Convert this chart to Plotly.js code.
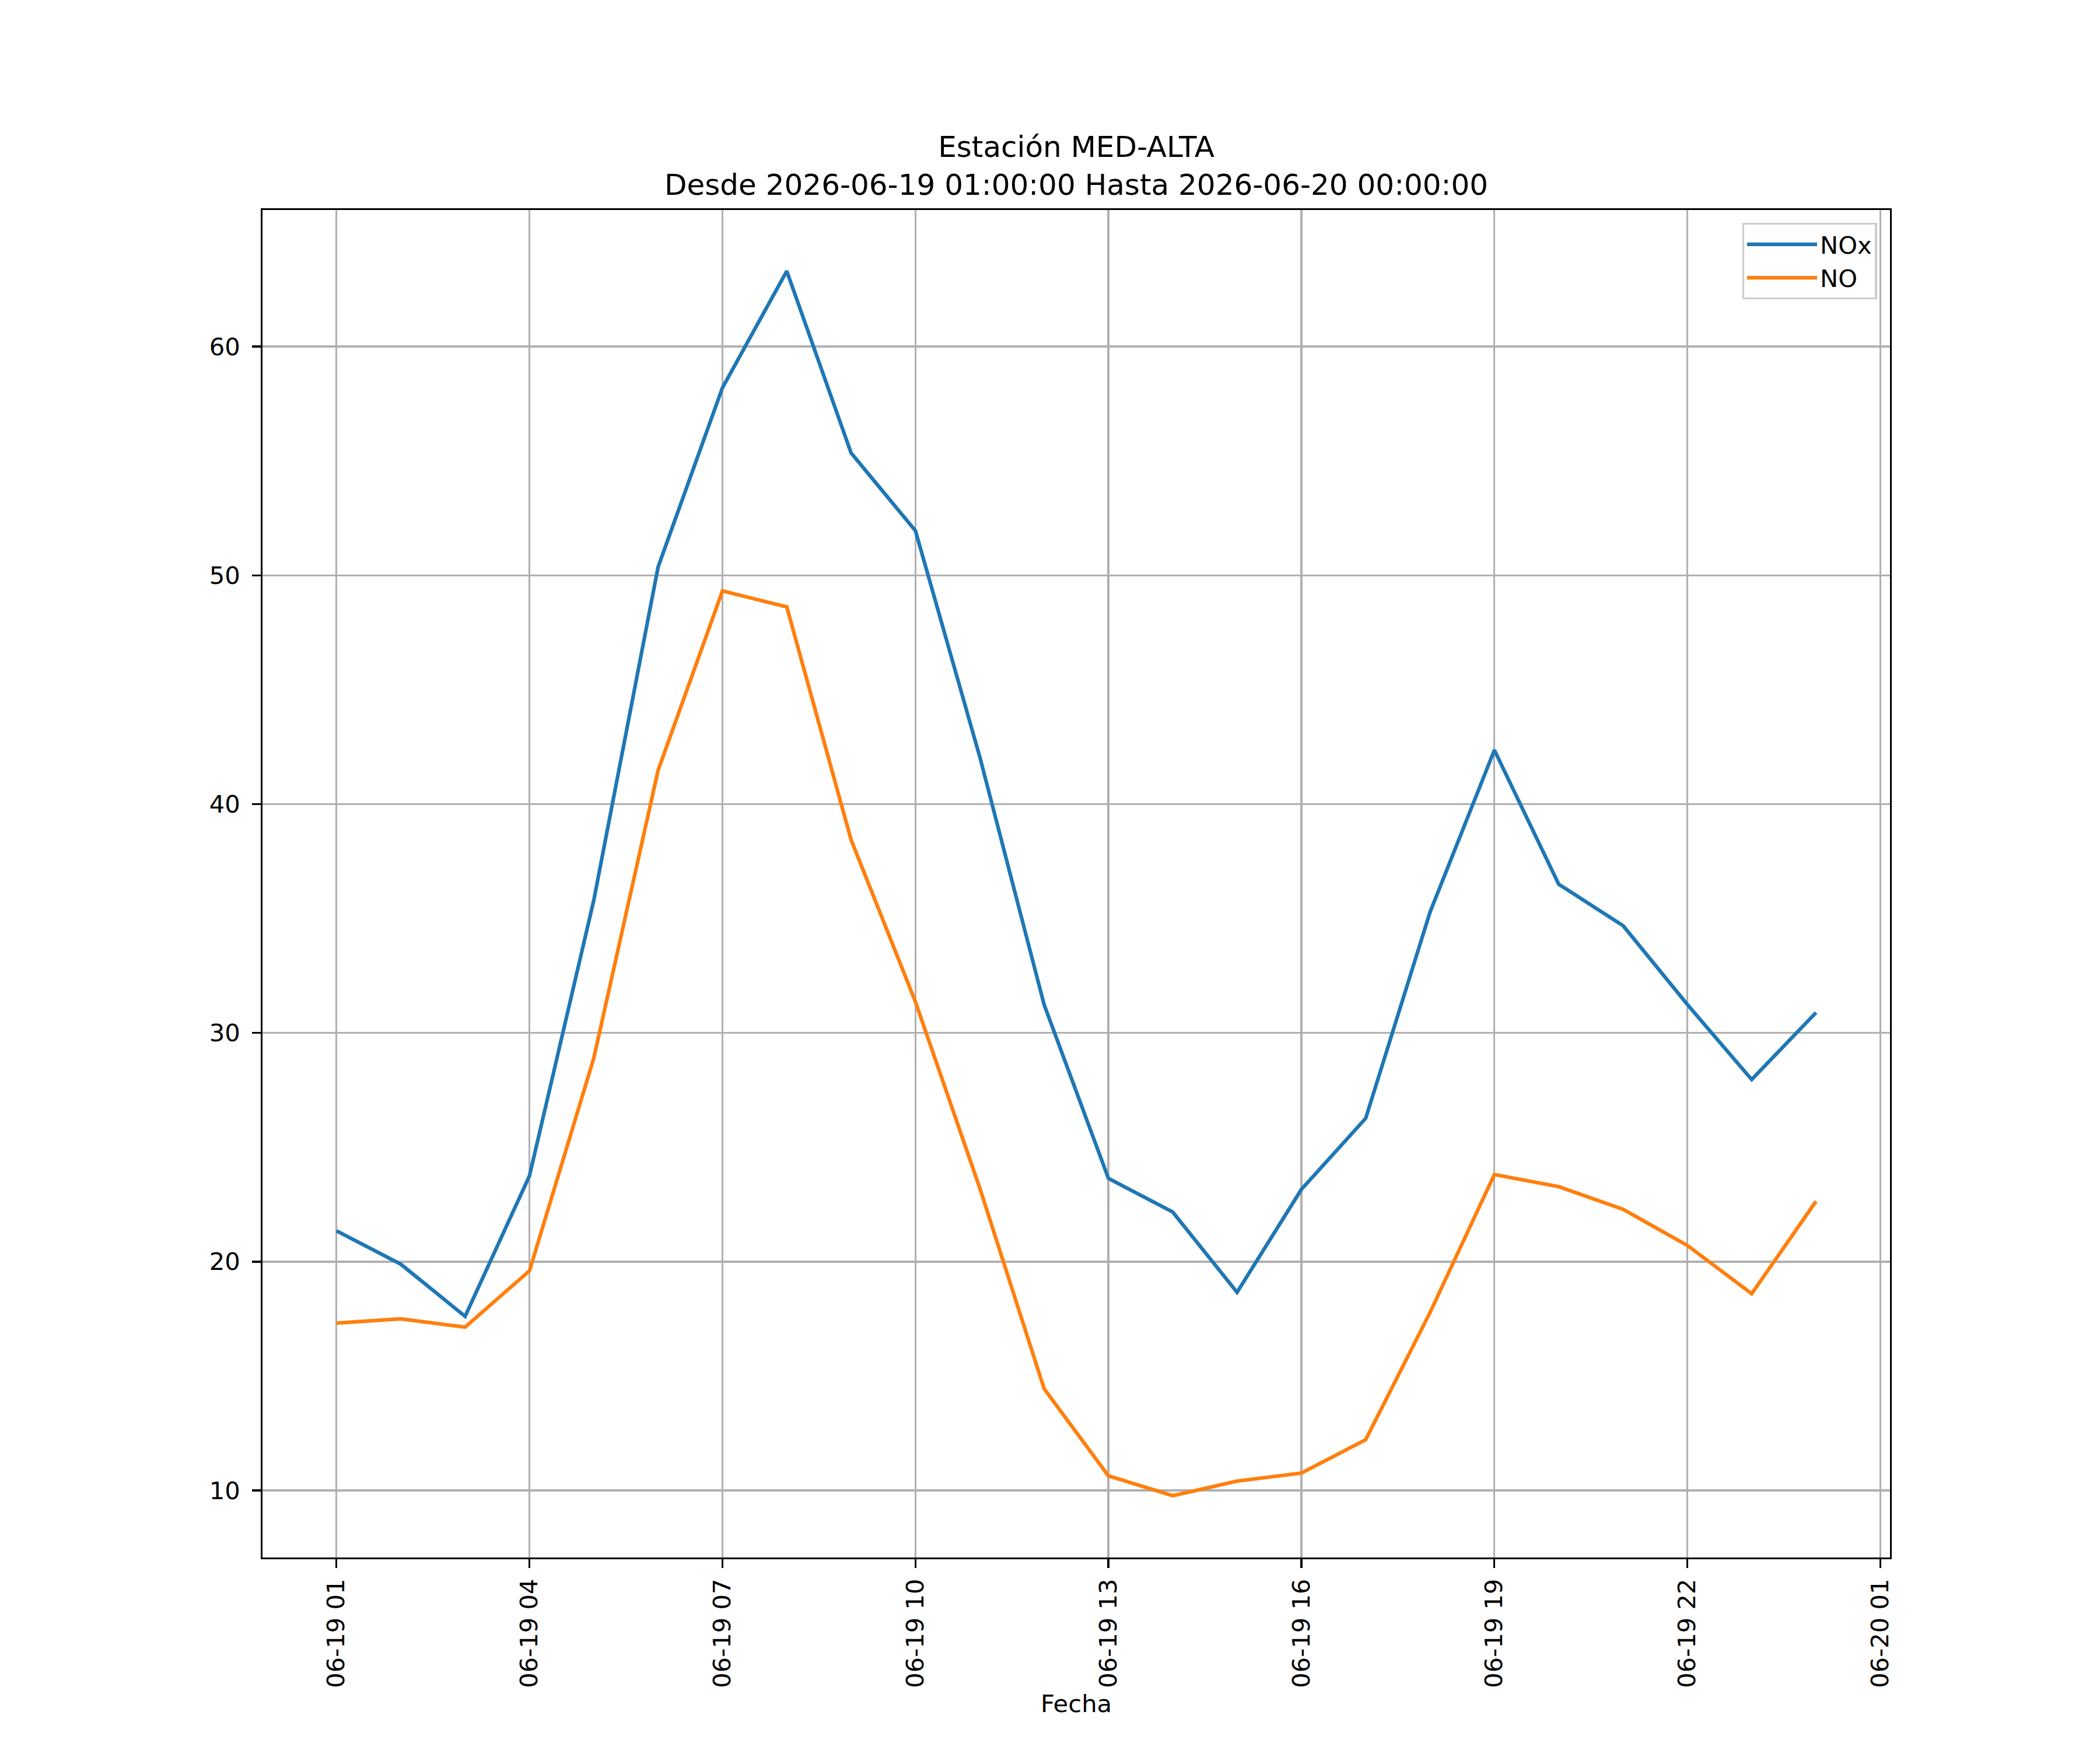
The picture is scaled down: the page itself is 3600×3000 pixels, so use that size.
<!DOCTYPE html>
<html>
<head>
<meta charset="utf-8">
<script src="https://cdn.plot.ly/plotly-3.0.1.min.js"></script>
<style>
  html, body { margin: 0; padding: 0; background: #fff; }
  #chart { width: 3600px; height: 3000px; }
</style>
</head>
<body>
<div id="chart"></div>
<script>
// hourly readings, estacion MED-ALTA
const horas = [
    '2026-06-19 01:00', '2026-06-19 02:00', '2026-06-19 03:00', '2026-06-19 04:00',
    '2026-06-19 05:00', '2026-06-19 06:00', '2026-06-19 07:00', '2026-06-19 08:00',
    '2026-06-19 09:00', '2026-06-19 10:00', '2026-06-19 11:00', '2026-06-19 12:00',
    '2026-06-19 13:00', '2026-06-19 14:00', '2026-06-19 15:00', '2026-06-19 16:00',
    '2026-06-19 17:00', '2026-06-19 18:00', '2026-06-19 19:00', '2026-06-19 20:00',
    '2026-06-19 21:00', '2026-06-19 22:00', '2026-06-19 23:00', '2026-06-20 00:00'
];
const nox = [21.35, 19.89, 17.61, 23.75, 35.8, 50.37, 58.2, 63.3, 55.35, 51.95, 42.07, 31.24,
             23.64, 22.17, 18.66, 23.16, 26.27, 35.28, 42.36, 36.5, 34.69, 31.24, 27.96, 30.89];
const no = [17.32, 17.5, 17.14, 19.6, 28.9, 41.48, 49.32, 48.62, 38.44, 31.36, 23.22, 14.45,
            10.64, 9.77, 10.41, 10.76, 12.22, 17.78, 23.81, 23.28, 22.29, 20.71, 18.6, 22.64];
const series = [
    { name: 'NOx', values: nox, color: '#1f77b4' },
    { name: 'NO', values: no, color: '#ff7f0e' }
];

const FONT = 'DejaVu Sans, sans-serif';
const PT = 300 / 72; // figure was 300 dpi

const traces = series.map(s => ({
    x: horas,
    y: s.values,
    name: s.name,
    type: 'scatter',
    mode: 'lines',
    line: { color: s.color, width: 1.5 * PT }
}));

const axisCommon = {
    showgrid: true,
    gridcolor: '#b0b0b0',
    gridwidth: 0.8 * PT,
    showline: true,
    mirror: true,
    linecolor: '#000',
    linewidth: 0.8 * PT,
    ticks: 'outside',
    ticklen: 3.5 * PT,
    tickwidth: 0.8 * PT,
    tickcolor: '#000',
    tickfont: { family: FONT, size: 10 * PT, color: '#000' },
    zeroline: false
};

const layout = {
    width: 3600,
    height: 3000,
    paper_bgcolor: '#fff',
    plot_bgcolor: '#fff',
    margin: { l: 450, r: 360, t: 360, b: 330 },
    font: { family: FONT, color: '#000' },
    showlegend: true,
    // title as an annotation so both lines sit right above the axes box
    annotations: [{
        text: 'Estación MED-ALTA<br>Desde 2026-06-19 01:00:00 Hasta 2026-06-20 00:00:00',
        font: { family: FONT, size: 12 * PT, color: '#000' },
        xref: 'paper',
        yref: 'paper',
        x: 0.5,
        y: 1,
        xanchor: 'center',
        yanchor: 'bottom',
        yshift: 12,
        showarrow: false,
        align: 'center'
    }],
    xaxis: Object.assign({}, axisCommon, {
        type: 'date',
        range: ['2026-06-18 23:51', '2026-06-20 01:09'],
        tickmode: 'linear',
        tick0: '2026-06-19 01:00',
        dtick: 3 * 3600 * 1000,
        tickformat: '%m-%d %H',
        tickangle: -90,
        ticklabelstandoff: 2,
        title: { text: 'Fecha', font: { family: FONT, size: 10 * PT, color: '#000' }, standoff: 14 }
    }),
    yaxis: Object.assign({}, axisCommon, {
        range: [7.07, 65.97],
        tickmode: 'linear',
        tick0: 0,
        dtick: 10,
        ticklabelstandoff: 12
    }),
    legend: {
        x: 0.992,
        xanchor: 'right',
        y: 0.9905,
        yanchor: 'top',
        bgcolor: 'rgba(255,255,255,0.8)',
        bordercolor: '#cccccc',
        borderwidth: 0.8 * PT,
        font: { family: FONT, size: 10 * PT, color: '#000' },
        itemwidth: 120,
        tracegroupgap: 0
    }
};

Plotly.newPlot('chart', traces, layout, { displayModeBar: false, staticPlot: true });
</script>
</body>
</html>
